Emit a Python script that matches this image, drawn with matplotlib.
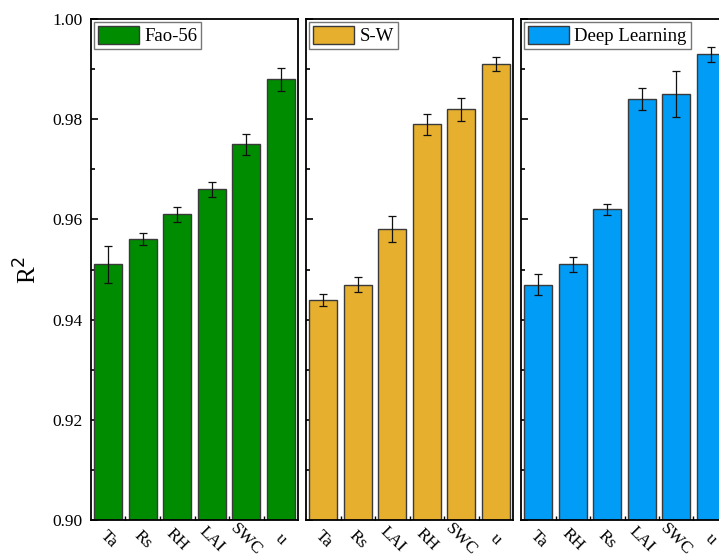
import matplotlib.pyplot as plt
import numpy as np
from matplotlib.ticker import MultipleLocator

plt.rcParams['font.family'] = ['Liberation Serif', 'DejaVu Serif']

# data per panel
fao_labels = ['Ta', 'Rs', 'RH', 'LAI', 'SWC', 'u']
fao_vals = [0.951, 0.956, 0.961, 0.966, 0.975, 0.988]
fao_err = [0.0036, 0.0012, 0.0015, 0.0015, 0.0021, 0.0023]

sw_labels = ['Ta', 'Rs', 'LAI', 'RH', 'SWC', 'u']
sw_vals = [0.944, 0.947, 0.958, 0.979, 0.982, 0.991]
sw_err = [0.0012, 0.0015, 0.0026, 0.0021, 0.0023, 0.0014]

dl_labels = ['Ta', 'RH', 'Rs', 'LAI', 'SWC', 'u']
dl_vals = [0.947, 0.951, 0.962, 0.984, 0.985, 0.993]
dl_err = [0.0021, 0.0015, 0.0011, 0.0022, 0.0046, 0.0015]

panels = [
    ('Fao-56', fao_labels, fao_vals, fao_err, '#008c00'),
    ('S-W', sw_labels, sw_vals, sw_err, '#e6b02e'),
    ('Deep Learning', dl_labels, dl_vals, dl_err, '#009cf5'),
]

fig = plt.figure(figsize=(7.19, 5.59), dpi=100)
W, H = 719, 559
left0, bottom, width, height = 91, 39, 207, 501
gap = 8

for i, (name, labels, vals, err, color) in enumerate(panels):
    x0 = left0 + i * (width + gap)
    ax = fig.add_axes([x0 / W, bottom / H, width / W, height / H])
    x = np.arange(len(labels))
    ax.bar(x, vals, width=0.82, color=color, edgecolor='#3a3a3a', linewidth=1.0,
           label=name, zorder=2)
    ax.errorbar(x, vals, yerr=err, fmt='none', ecolor='#111111', elinewidth=0.9,
                capsize=3, capthick=0.9, zorder=3)
    ax.set_ylim(0.90, 1.00)
    ax.set_xlim(-0.5, len(labels) - 0.5)
    ax.yaxis.set_major_locator(MultipleLocator(0.02))
    ax.yaxis.set_minor_locator(MultipleLocator(0.01))
    ax.set_xticks(x)
    ax.set_xticks(x[:-1] + 0.5, minor=True)
    ax.set_xticklabels(labels, rotation=-45, ha='center', va='center',
                       rotation_mode='anchor', fontsize=12.5)
    ax.tick_params(axis='x', which='major', length=0, pad=14)
    ax.tick_params(axis='x', which='minor', direction='in', length=3, width=1)
    ax.tick_params(axis='y', which='major', direction='in', length=5, width=1.2,
                   labelsize=12.5, pad=6)
    ax.tick_params(axis='y', which='minor', direction='in', length=3, width=1.2)
    ax.yaxis.set_major_formatter(plt.FormatStrFormatter('%.2f'))
    if i > 0:
        ax.tick_params(axis='y', labelleft=False)
    else:
        ax.set_ylabel('R$^2$', fontsize=18, labelpad=8)
    for s in ax.spines.values():
        s.set_linewidth(1.3)
    leg = ax.legend(loc='upper left', fontsize=13.5, frameon=True, fancybox=False,
                    edgecolor='#555555', borderaxespad=0.15, handlelength=2.2,
                    handleheight=1.1, borderpad=0.2, handletextpad=0.3)
    leg.get_frame().set_linewidth(1.0)

fig.savefig('out.png', dpi=100)
